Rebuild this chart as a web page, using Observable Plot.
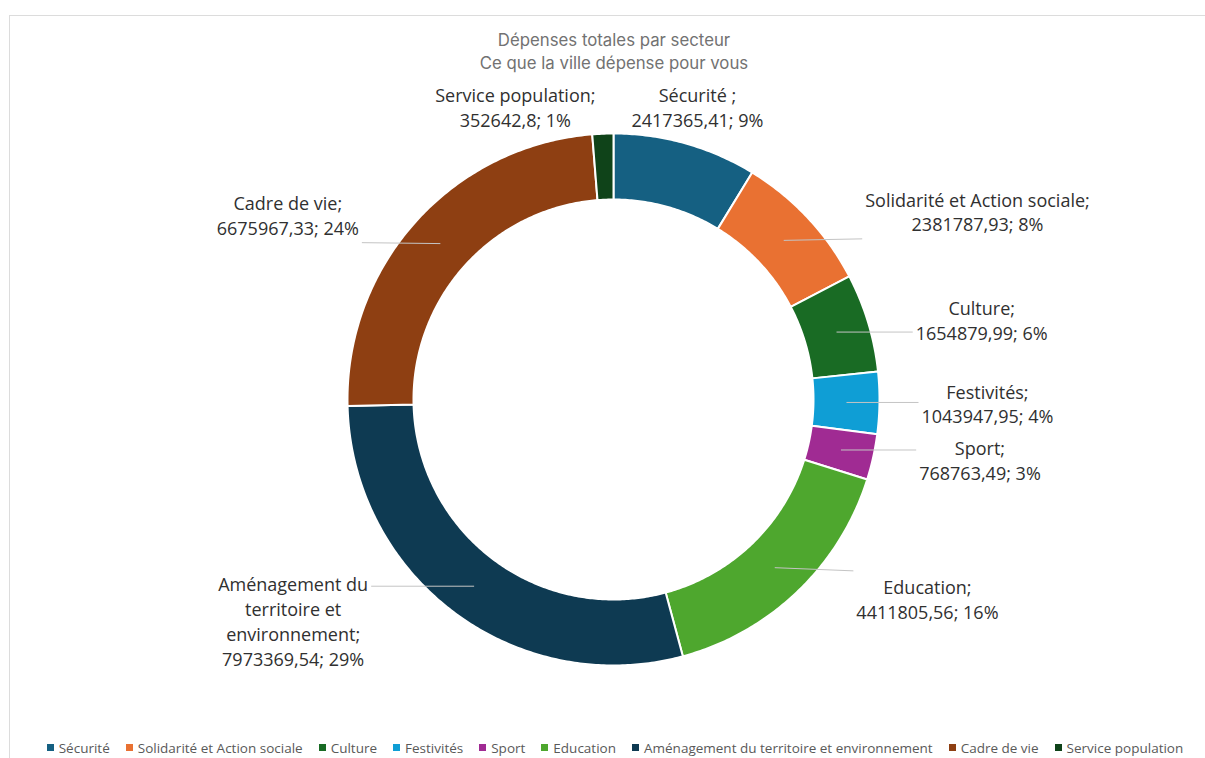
<!DOCTYPE html>
<html>
<head>
<meta charset="utf-8">
<script src="https://cdn.jsdelivr.net/npm/d3@7"></script>
<script src="https://cdn.jsdelivr.net/npm/@observablehq/plot@0.6"></script>
<style>
  html, body { margin: 0; padding: 0; background: #fff; }
  body { width: 1205px; height: 758px; overflow: hidden; position: relative; font-family: "Open Sans", sans-serif; }
  #frame { position: absolute; left: 9px; top: 15px; width: 1220px; height: 780px; border: 1px solid #dcdcdc; box-sizing: border-box; }
  #title { position: absolute; left: 0; top: 29px; width: 1228px; text-align: center; font-family: "Inter", sans-serif; font-size: 16.8px; line-height: 23px; color: #727272; }
  #chart { position: absolute; left: 0; top: 75px; }
  #legend { position: absolute; left: 8px; top: 731px; width: 1230px; }
  #legend .lg-swatches-wrap { justify-content: center; margin: 0; min-height: 33px; }
  #legend .lg-swatch { margin-right: 16px !important; }
  #legend .lg-swatch > svg { margin-right: 5px !important; }
</style>
</head>
<body>
<div id="frame"></div>
<div id="title">Dépenses totales par secteur<br>Ce que la ville dépense pour vous</div>
<div id="chart"></div>
<div id="legend"></div>
<script>
// ---- data ----
const categories = ["Sécurité", "Solidarité et Action sociale", "Culture", "Festivités", "Sport", "Education", "Aménagement du territoire et environnement", "Cadre de vie", "Service population"];
const values = [2417365.41, 2381787.93, 1654879.99, 1043947.95, 768763.49, 4411805.56, 7973369.54, 6675967.33, 352642.8];
const percentLabels = [9, 8, 6, 4, 3, 16, 29, 24, 1];
const labelNames = ["Sécurité ", "Solidarité et Action sociale", "Culture", "Festivités", "Sport", "Education", "Aménagement du\nterritoire et\nenvironnement", "Cadre de vie", "Service population"];
const colors = ["#156082", "#E97132", "#196B24", "#0F9ED5", "#A02B93", "#4EA72E", "#0E3A52", "#8E3F12", "#0F4319"];

// ---- layout ----
const W = 1205, H = 640, cx = 613, cy = 324, R = 266, innerR = 200;
const fontSize = 18, lineH = 1.38, labelFont = "Open Sans";

const rows = categories.map((c, i) => ({category: c, value: values[i], i}));
const arcs = d3.pie().sort(null).value(d => d.value)(rows);

// slices as polygons in units of R (y up), projected by an identity projection
const slices = arcs.map(a => {
  const n = Math.max(8, Math.ceil((a.endAngle - a.startAngle) / 0.01));
  const outer = d3.range(n + 1).map(k => a.startAngle + (a.endAngle - a.startAngle) * k / n);
  const ri = innerR / R;
  const ring = [
    ...outer.map(t => [Math.sin(t), Math.cos(t)]),
    ...outer.slice().reverse().map(t => [ri * Math.sin(t), ri * Math.cos(t)])
  ];
  ring.push(ring[0]);
  return {type: "Feature", properties: {category: a.data.category}, geometry: {type: "Polygon", coordinates: [ring]}};
});

// label texts and placement (labels pushed horizontally out of the ring)
const ctx = document.createElement("canvas").getContext("2d");
ctx.font = `${fontSize}px "${labelFont}"`;
const fmt = v => String(v).replace(".", ",");
const labels = [], leaders = [];
arcs.forEach(a => {
  const i = a.data.i;
  const text = `${labelNames[i]};\n${fmt(values[i])}; ${percentLabels[i]}%`;
  const lines = text.split("\n");
  const w = d3.max(lines, l => ctx.measureText(l).width);
  const h = lines.length * fontSize * lineH;
  const mid = (a.startAngle + a.endAngle) / 2;
  const ux = Math.sin(mid), uy = -Math.cos(mid);
  const s = ux < 0 ? -1 : 1;
  let x, y;
  if (Math.abs(uy) > 0.9) {
    y = Math.sign(uy) * (R + 2 + h / 2);
    x = s * (18 + w / 2);
  } else {
    y = uy * (R + 10);
    const near = Math.max(0, Math.abs(y) - h / 2);
    const xc = Math.sqrt(Math.max(0, R * R - near * near));
    x = s * (xc + 42 + w / 2);
  }
  labels.push({x: x / R, y: -y / R, text});
  const mr = (R + innerR) / 2;
  const mx = ux * mr, my = uy * mr;
  const pad = 3;
  const px = Math.min(Math.max(mx, x - w / 2 - pad), x + w / 2 + pad);
  const py = Math.min(Math.max(my, y - h / 2 - pad), y + h / 2 + pad);
  if (Math.hypot(px, py) - R > 24) leaders.push({x1: mx / R, y1: -my / R, x2: px / R, y2: -py / R});
});

const chart = Plot.plot({
  width: W,
  height: H,
  projection: d3.geoIdentity().reflectY(true).scale(R).translate([cx, cy]),
  color: {domain: categories, range: colors},
  style: {background: "transparent", overflow: "visible"},
  marks: [
    Plot.geo(slices, {fill: d => d.properties.category, stroke: "white", strokeWidth: 2}),
    Plot.link(leaders, {x1: "x1", y1: "y1", x2: "x2", y2: "y2", stroke: "#c4c4c4", strokeWidth: 1}),
    Plot.text(labels, {x: "x", y: "y", text: "text", fontSize, fontFamily: labelFont, fill: "#303030", lineHeight: lineH, textAnchor: "middle"})
  ]
});
document.getElementById("chart").appendChild(chart);

const legend = Plot.legend({
  color: {type: "categorical", domain: categories, range: colors},
  legend: "swatches",
  className: "lg",
  swatchSize: 7,
  style: {fontSize: "13.5px", fontFamily: "Open Sans", color: "#595959"}
});
document.getElementById("legend").appendChild(legend);
</script>
</body>
</html>
